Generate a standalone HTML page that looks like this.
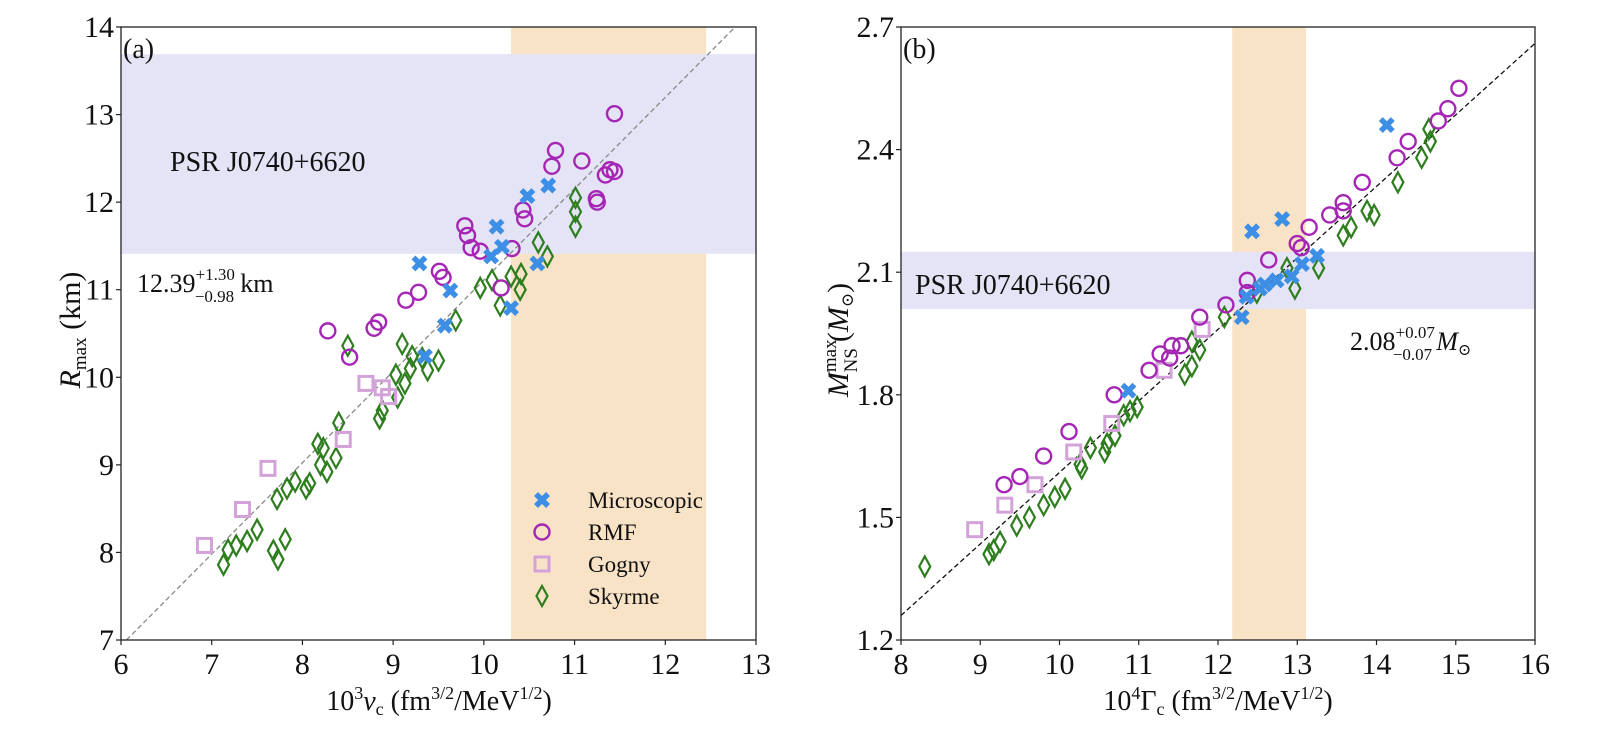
<!DOCTYPE html>
<html><head><meta charset="utf-8"><style>
body{margin:0;background:#fff}
svg{display:block;font-family:"Liberation Serif","DejaVu Serif",serif}
</style></head><body>
<svg id="c" width="1604" height="756" viewBox="0 0 1604 756" xmlns="http://www.w3.org/2000/svg"></svg>
<script>
// ---- Panel (a) data ----
const aXTicks=[6,7,8,9,10,11,12,13];
const aYTicks=[7,8,9,10,11,12,13,14];
const aMicroX=[10.71,10.48,10.14,10.20,10.08,9.29,10.59,9.63,10.30,9.57,9.35];
const aMicroY=[12.19,12.07,11.72,11.49,11.38,11.30,11.30,10.99,10.79,10.59,10.24];
const aRmfX=[11.44,10.79,10.75,11.08,11.34,11.39,11.44,11.24,11.25,10.43,10.45,9.79,9.82,9.86,9.96,10.31,9.51,9.55,9.28,9.14,10.19,8.84,8.28,8.52,8.79];
const aRmfY=[13.01,12.59,12.41,12.47,12.31,12.37,12.35,12.04,12.0,11.91,11.81,11.73,11.62,11.48,11.44,11.47,11.21,11.14,10.97,10.88,11.02,10.63,10.53,10.23,10.56];
const aGognyX=[8.70,8.88,8.95,8.45,7.62,7.34,6.92];
const aGognyY=[9.93,9.88,9.78,9.29,8.96,8.49,8.08];
const aSkyX=[8.50,9.10,9.03,9.19,9.32,9.38,9.50,9.05,8.88,8.85,9.13,8.40,8.17,8.23,8.20,8.27,8.37,8.08,8.04,7.92,7.83,7.72,7.50,7.39,7.27,7.18,7.13,7.81,7.68,7.73,11.01,11.01,11.01,10.60,10.70,10.30,10.41,10.40,10.09,9.96,10.18,9.69,9.21];
const aSkyY=[10.36,10.38,10.03,10.10,10.22,10.08,10.19,9.77,9.62,9.53,9.93,9.48,9.24,9.19,9.00,8.92,9.08,8.79,8.73,8.81,8.73,8.61,8.26,8.13,8.08,8.03,7.86,8.15,8.02,7.92,12.05,11.89,11.72,11.54,11.38,11.15,11.18,11.0,11.11,11.02,10.82,10.65,10.24];
const aFit=[[6.06,7],[12.77,14]];
const aBandY=[11.41,13.69];
const aBandX=[10.30,12.45];
// ---- Panel (b) data ----
const bXTicks=[8,9,10,11,12,13,14,15,16];
const bYTicks=[1.2,1.5,1.8,2.1,2.4,2.7];
const bYTickLabels=["1.2","1.5","1.8","2.1","2.4","2.7"];
const bMicroX=[10.87,14.13,12.81,12.43,13.25,13.06,12.93,12.74,12.59,12.53,12.36,12.30];
const bMicroY=[1.81,2.46,2.23,2.20,2.14,2.12,2.09,2.08,2.07,2.06,2.04,1.99];
const bRmfX=[11.77,11.27,11.42,11.39,11.53,11.13,10.69,10.12,9.80,9.50,9.30,15.04,14.90,14.78,14.40,14.26,13.82,13.58,13.58,13.41,13.15,13.00,13.05,12.64,12.37,12.37,12.10];
const bRmfY=[1.99,1.90,1.92,1.89,1.92,1.86,1.80,1.71,1.65,1.60,1.58,2.55,2.50,2.47,2.42,2.38,2.32,2.27,2.25,2.24,2.21,2.17,2.16,2.13,2.08,2.05,2.02];
const bGognyX=[11.80,11.32,10.66,10.18,9.69,9.31,8.93];
const bGognyY=[1.96,1.86,1.73,1.66,1.58,1.53,1.47];
const bSkyX=[8.30,9.11,9.17,9.25,9.46,9.62,9.80,9.94,10.07,10.28,10.26,10.39,10.57,10.60,10.70,10.81,10.89,10.98,11.58,11.67,11.67,11.77,14.66,14.68,14.57,14.27,13.97,13.88,13.68,13.58,13.27,12.97,12.87,12.49,12.08];
const bSkyY=[1.38,1.41,1.42,1.44,1.48,1.50,1.53,1.55,1.57,1.62,1.63,1.67,1.66,1.68,1.70,1.75,1.76,1.77,1.85,1.87,1.93,1.91,2.45,2.42,2.38,2.32,2.24,2.25,2.21,2.19,2.11,2.06,2.11,2.05,1.99];
const bFit=[[8,1.26],[16,2.66]];
const bBandY=[2.01,2.15];
const bBandX=[12.18,13.11];

const NS='http://www.w3.org/2000/svg';
const svg=document.getElementById('c');
function mk(tag,attrs,parent){const e=document.createElementNS(NS,tag);for(const k in attrs)e.setAttribute(k,attrs[k]);(parent||svg).appendChild(e);return e;}
function axis(x0,x1,y0,y1,px0,px1,py0,py1){return {x:v=>px0+(v-x0)/(x1-x0)*(px1-px0),y:v=>py0+(v-y0)/(y1-y0)*(py1-py0),L:px0,R:px1,T:py1,B:py0};}
const A=axis(6,13,7,14,121,756,640,27);
const B=axis(8,16,1.2,2.7,901,1535,640,27);

function marker(kind,cx,cy,g){
  let e;
  if(kind==='micro'){e=mk('path',{d:`M${cx-6},${cy-6}L${cx+6},${cy+6}M${cx+6},${cy-6}L${cx-6},${cy+6}`,stroke:'#3d8fe6','stroke-width':5.5,'stroke-linecap':'butt',fill:'none'},g);}
  else if(kind==='rmf'){e=mk('circle',{cx:cx,cy:cy,r:7.5,fill:'none',stroke:'#a526b5','stroke-width':2.4},g);}
  else if(kind==='gogny'){e=mk('rect',{x:cx-7,y:cy-7,width:14,height:14,fill:'none',stroke:'#d3a2d8','stroke-width':3},g);}
  else {e=mk('path',{d:`M${cx},${cy-10}L${cx+5.5},${cy}L${cx},${cy+10}L${cx-5.5},${cy}Z`,fill:'none',stroke:'#2e7d1e','stroke-width':2.2},g);}
  return e;
}
function series(ax,xs,ys,kind,name){
  const g=mk('g',{});
  
  
  for(let i=0;i<xs.length;i++){
    const m=marker(kind,ax.x(xs[i]),ax.y(ys[i]),g);
    
    
  }
}
function panel(ax,bx,by,fit,xt,yt,ytl,pname){
  const g=mk('g',{});
  
  
  const o=mk('rect',{x:ax.x(bx[0]),y:ax.T,width:ax.x(bx[1])-ax.x(bx[0]),height:ax.B-ax.T,fill:'#f9e3c6'},g);
  
  
  const b=mk('rect',{x:ax.L,y:ax.y(by[1]),width:ax.R-ax.L,height:ax.y(by[0])-ax.y(by[1]),fill:'#e4e4f6'},g);
  
  
  const l=mk('line',{x1:ax.x(fit[0][0]),y1:ax.y(fit[0][1]),x2:ax.x(fit[1][0]),y2:ax.y(fit[1][1]),stroke:pname==='panel-a'?'#888':'#111','stroke-width':1.3,'stroke-dasharray':'5,3'});
  
  
  return {ticks:()=>{
    const f=mk('rect',{x:ax.L,y:ax.T,width:ax.R-ax.L,height:ax.B-ax.T,fill:'none',stroke:'#222','stroke-width':1.3});
    
    
    xt.forEach(v=>{const x=ax.x(v);mk('line',{x1:x,y1:ax.B,x2:x,y2:ax.B+5,stroke:'#222','stroke-width':1.2});
      const t=mk('text',{x:x,y:ax.B+34,'font-size':30,'text-anchor':'middle',fill:'#111'});t.textContent=v;
      });
    yt.forEach((v,i)=>{const y=ax.y(v);mk('line',{x1:ax.L-5,y1:y,x2:ax.L,y2:y,stroke:'#222','stroke-width':1.2});
      const t=mk('text',{x:ax.L-7,y:y+10,'font-size':30,'text-anchor':'end',fill:'#111'});t.textContent=ytl?ytl[i]:v;
      });
  }};
}
const pa=panel(A,aBandX,aBandY,aFit,aXTicks,aYTicks,null,'panel-a');
series(A,aSkyX,aSkyY,'sky','a-skyrme');
series(A,aGognyX,aGognyY,'gogny','a-gogny');
series(A,aRmfX,aRmfY,'rmf','a-rmf');
series(A,aMicroX,aMicroY,'micro','a-microscopic');
pa.ticks();
const pb=panel(B,bBandX,bBandY,bFit,bXTicks,bYTicks,bYTickLabels,'panel-b');
series(B,bSkyX,bSkyY,'sky','b-skyrme');
series(B,bGognyX,bGognyY,'gogny','b-gogny');
series(B,bRmfX,bRmfY,'rmf','b-rmf');
series(B,bMicroX,bMicroY,'micro','b-microscopic');
pb.ticks();
// legend
const legNames=['Microscopic','RMF','Gogny','Skyrme'];
const legKinds=['micro','rmf','gogny','sky'];
legNames.forEach((n,i)=>{
  const y=500+i*32;
  const m=marker(legKinds[i],542,y);
  
  
  const t=mk('text',{x:588,y:y+8,'font-size':23,fill:'#111'});t.textContent=n;
  
  
});
</script>
<svg style="position:absolute;left:0;top:0" width="1604" height="756" xmlns="http://www.w3.org/2000/svg" font-family="Liberation Serif, DejaVu Serif, serif" fill="#111">
<text x="123" y="58" font-size="28">(a)</text>
<text x="903" y="58" font-size="28">(b)</text>
<text x="170" y="171" font-size="28">PSR J0740+6620</text>
<text x="137" y="292" font-size="26">12.39<tspan font-size="17" dy="-12">+1.30</tspan><tspan font-size="17" dx="-40" dy="22">−0.98</tspan><tspan dy="-10" dx="6">km</tspan></text>
<text x="915" y="294" font-size="28">PSR J0740+6620</text>
<text x="1350" y="350" font-size="26">2.08<tspan font-size="17" dy="-12">+0.07</tspan><tspan font-size="17" dx="-42" dy="22">−0.07</tspan><tspan dy="-10" dx="4" font-style="italic">M</tspan><tspan font-size="16" dy="5">⊙</tspan></text>
<text x="439" y="710" font-size="28" text-anchor="middle">10<tspan font-size="18" dy="-11">3</tspan><tspan dy="11" font-style="italic">ν</tspan><tspan font-size="18" dy="5">c</tspan><tspan dy="-5"> (fm</tspan><tspan font-size="18" dy="-11">3/2</tspan><tspan dy="11">/MeV</tspan><tspan font-size="18" dy="-11">1/2</tspan><tspan dy="11">)</tspan></text>
<text x="1218" y="710" font-size="28" text-anchor="middle">10<tspan font-size="18" dy="-11">4</tspan><tspan dy="11">Γ</tspan><tspan font-size="18" dy="5">c</tspan><tspan dy="-5"> (fm</tspan><tspan font-size="18" dy="-11">3/2</tspan><tspan dy="11">/MeV</tspan><tspan font-size="18" dy="-11">1/2</tspan><tspan dy="11">)</tspan></text>
<text transform="translate(80,330) rotate(-90)" font-size="30" text-anchor="middle"><tspan font-style="italic">R</tspan><tspan font-size="19" dy="6">max</tspan><tspan dy="-6"> (km)</tspan></text>
<text transform="translate(848,340) rotate(-90)" font-size="30" text-anchor="middle"><tspan font-style="italic">M</tspan><tspan font-size="19" dy="-12">max</tspan><tspan font-size="19" dx="-33" dy="21">NS</tspan><tspan dx="6" dy="-9">(</tspan><tspan font-style="italic">M</tspan><tspan font-size="17" dy="5">⊙</tspan><tspan dy="-5">)</tspan></text>
</svg>
</body></html>
